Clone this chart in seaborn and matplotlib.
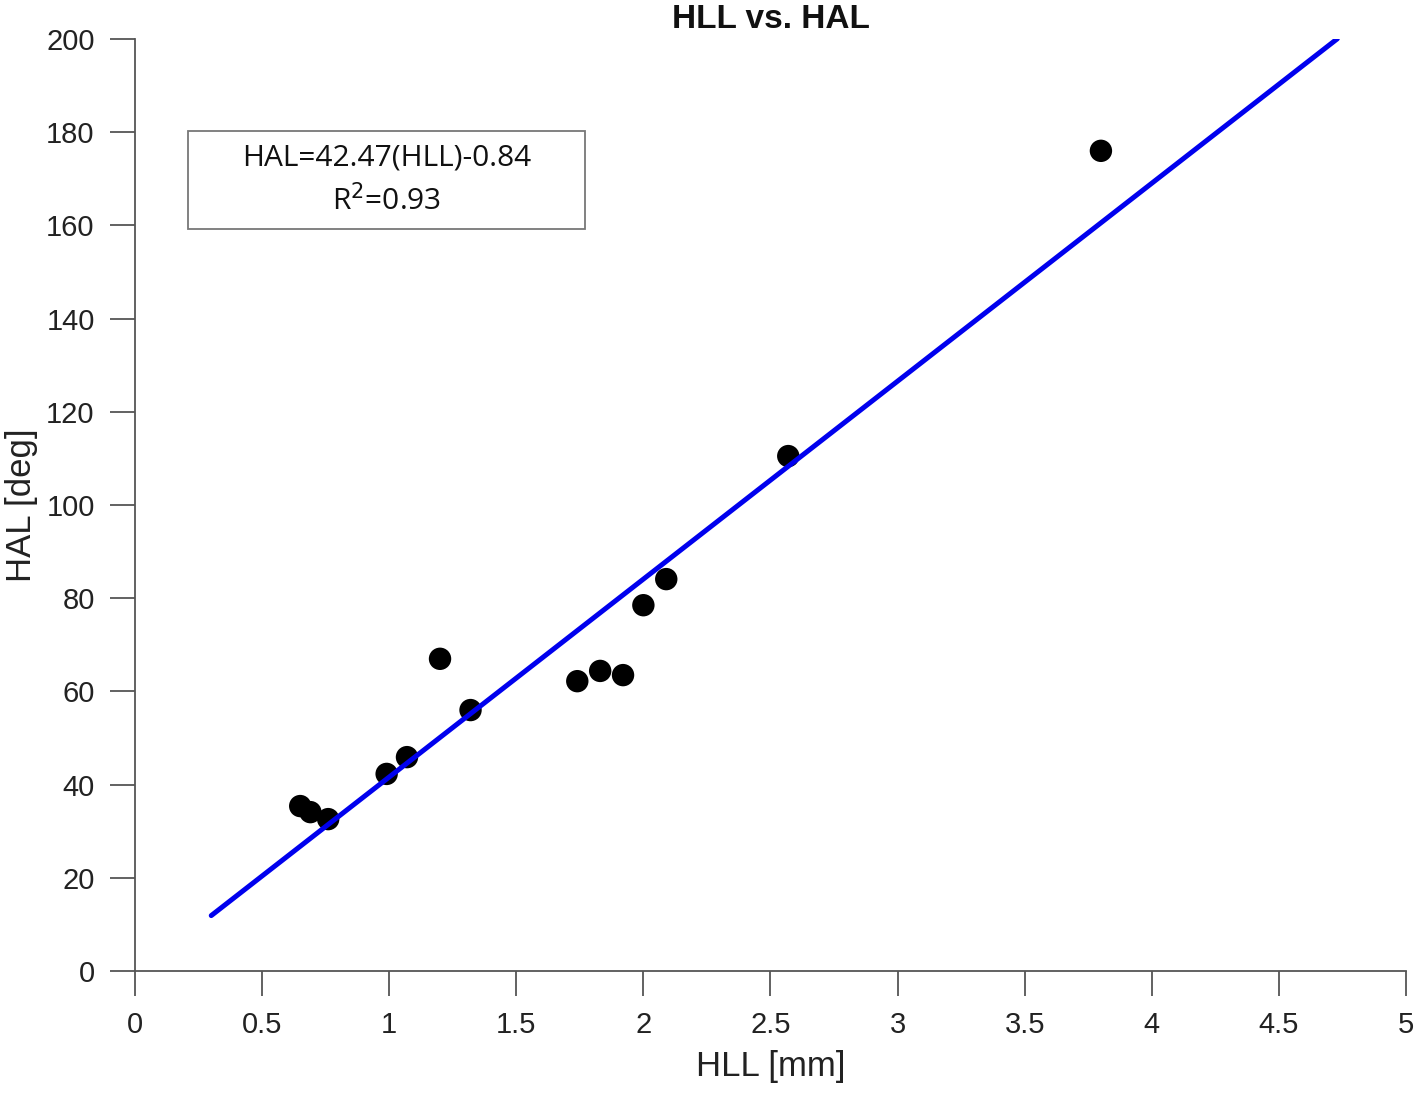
import numpy as np
import pandas as pd
import matplotlib.pyplot as plt
import seaborn as sns
from matplotlib.patches import Rectangle

# values
hll = [0.65, 0.69, 0.76, 0.99, 1.07, 1.20, 1.32, 1.74, 1.83, 1.92, 2.00, 2.09, 2.57, 3.80]
hal = [35.4, 34.1, 32.6, 42.3, 45.9, 67.0, 56.0, 62.2, 64.4, 63.5, 78.5, 84.1, 110.5, 176.0]
slope = 42.47
intercept = -0.84
fit_x = [0.3, 4.73]

sns.set_theme(style="white")
plt.rcParams['font.family'] = ['Liberation Sans', 'DejaVu Sans']

df = pd.DataFrame({'HLL': hll, 'HAL': hal})
fit = pd.DataFrame({'HLL': fit_x, 'HAL': [slope * v + intercept for v in fit_x]})

fig = plt.figure(figsize=(14.18, 10.95), dpi=100)
ax = fig.add_axes([0.0952, 0.1132, 0.8963, 0.8512])

sns.scatterplot(data=df, x='HLL', y='HAL', color='black', s=260, edgecolor='none', ax=ax, zorder=2)
sns.lineplot(data=fit, x='HLL', y='HAL', color='#0000ee', linewidth=3.6, ax=ax, zorder=3)

ax.set_xlim(0, 5)
ax.set_ylim(0, 200)
ax.set_xticks(np.arange(0, 5.01, 0.5))
ax.set_xticklabels(['0', '0.5', '1', '1.5', '2', '2.5', '3', '3.5', '4', '4.5', '5'])
ax.set_yticks(np.arange(0, 201, 20))

for side in ['top', 'right']:
    ax.spines[side].set_visible(False)
for side in ['left', 'bottom']:
    ax.spines[side].set_color('#555555')
    ax.spines[side].set_linewidth(1.3)
ax.tick_params(direction='out', length=18, width=1.3, color='#555555',
               labelsize=21, labelcolor='#222222', pad=11, left=True, bottom=True)

ax.set_xlabel('HLL [mm]', fontsize=25, color='#222222', labelpad=8)
ax.set_ylabel('HAL [deg]', fontsize=25, color='#222222', labelpad=6)
ax.set_title('HLL vs. HAL', fontsize=24, fontweight='bold', color='#111111', pad=8)

# equation box
ax.add_patch(Rectangle((0.208, 159.2), 1.562, 21.1, fill=False, edgecolor='#777777', linewidth=1.3, zorder=4))
ax.text(0.989, 174.5, 'HAL=42.47(HLL)-0.84', ha='center', va='center', fontsize=21.5,
        family=['Open Sans', 'DejaVu Sans'], color='#111111')
ax.text(0.989, 165.3, 'R$^2$=0.93', ha='center', va='center', fontsize=21.5,
        family=['Open Sans', 'DejaVu Sans'], color='#111111')

fig.savefig('out.png', dpi=100)
